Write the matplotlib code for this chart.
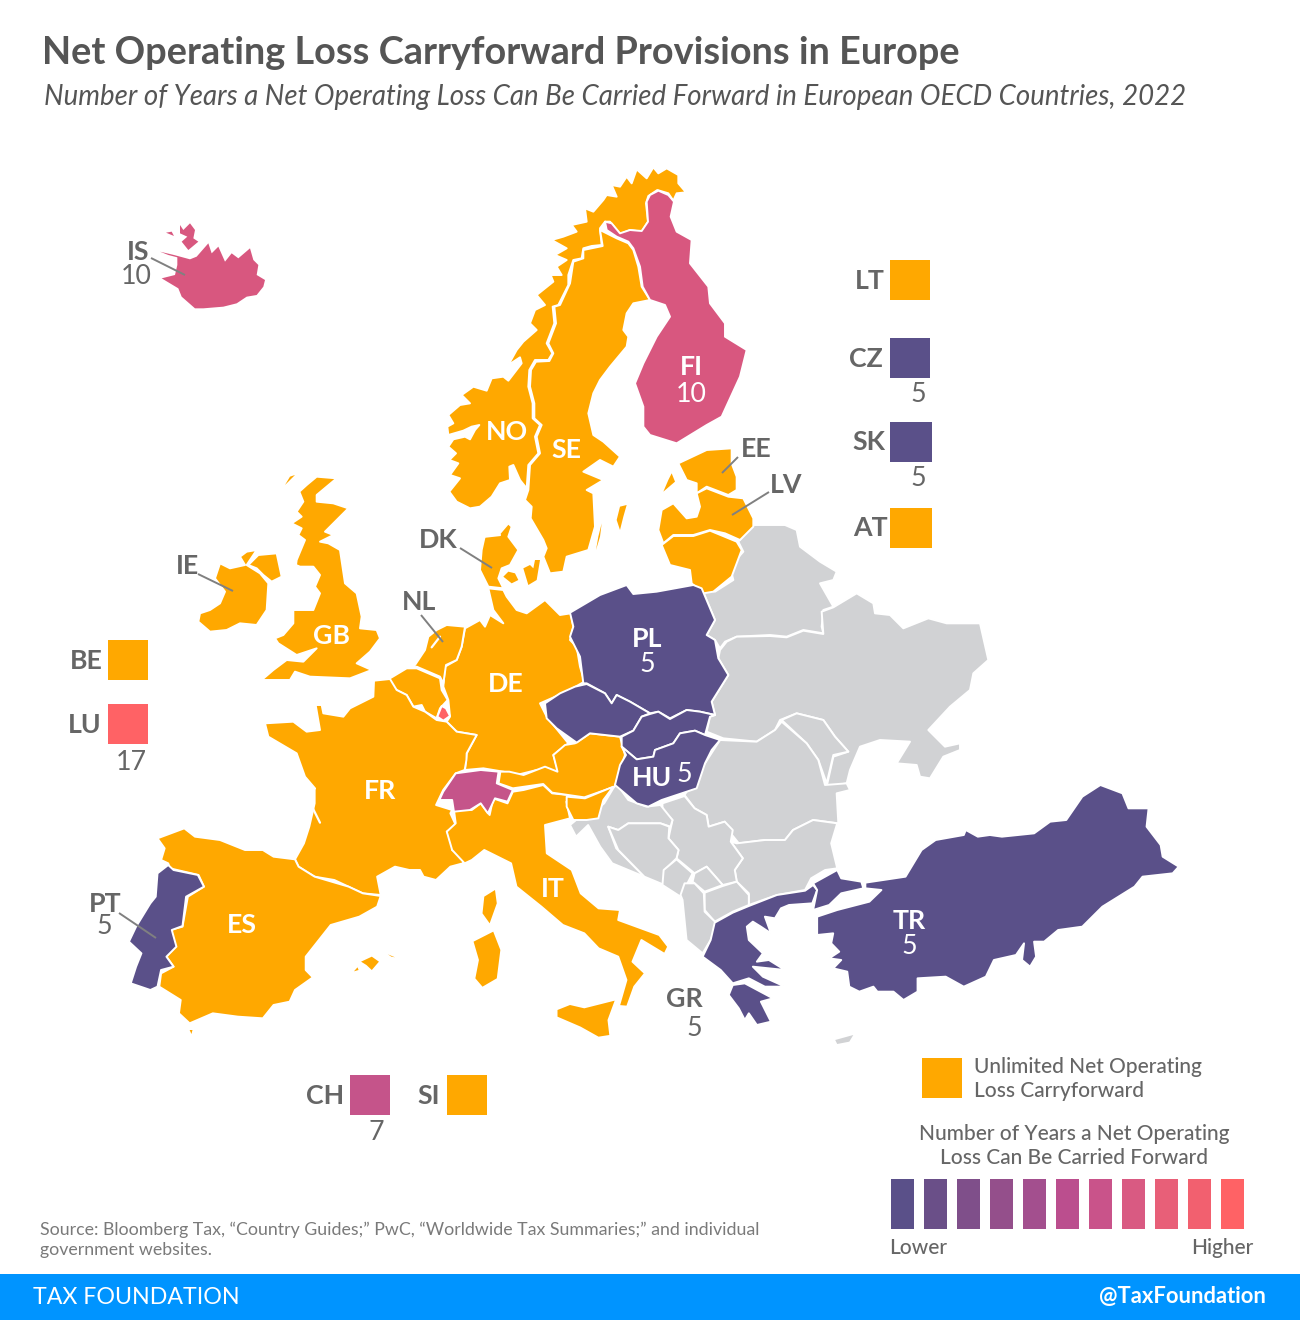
import matplotlib
matplotlib.use("Agg")
import matplotlib.pyplot as plt
from matplotlib.patches import Polygon, Rectangle

plt.rcParams['font.family'] = ['Lato', 'DejaVu Sans']

# ---- palette -------------------------------------------------------------
ORANGE = '#ffa800'; PURPLE = '#5a5089'; GREY = '#d1d2d4'
PINK10 = '#d8577f'; PINK7 = '#c5548a'; RED17 = '#ff6265'
TXT = '#666666'

# ---- outlines, in crop coordinates ----------------------------------------
def c1(p): return [(420 + x / 3, 160 + y / 3) for x, y in p]
def c2(p): return [(150 + x / 3, 460 + y / 3) for x, y in p]
def c3(p): return [(120 + x / 2.8, 760 + y / 3) for x, y in p]
def c4(p): return [(540 + x / 3, 520 + y / 3) for x, y in p]
def c5(p): return [(560 + x / 2.489, 770 + y / 3) for x, y in p]
def c7(p): return [(100 + x / 3, 200 + y / 3) for x, y in p]

NO = c1([(798,97),(770,100),(760,122),(745,100),(712,90),(685,108),(678,130),(684,185),(665,215),(630,210),(600,222),(570,185),(555,185),(540,205),(545,255),(515,258),(490,265),(485,295),(460,300),(445,345),(445,375),(415,435),(398,440),(403,490),(380,550),(397,580),(385,600),(345,600),(328,630),(325,680),(338,730),(338,775),(360,795),(345,830),(355,880),(325,915),(320,985),(300,960),(280,915),(268,920),(270,960),(240,970),(215,1010),(180,1040),(150,1045),(110,1025),(88,995),(120,955),(90,945),(115,910),(88,900),(108,880),(85,860),(100,838),(135,830),(150,838),(165,810),(178,795),(155,800),(130,812),(85,825),(82,800),(100,790),(85,765),(120,735),(150,730),(125,705),(160,680),(200,692),(215,655),(250,650),(265,662),(305,610),(300,592),(265,615),(290,570),(310,545),(350,510),(330,490),(345,450),(375,435),(350,405),(400,365),(392,345),(425,345),(410,320),(440,300),(405,285),(440,265),(395,240),(430,230),(470,215),(455,195),(500,185),(495,145),(520,155),(550,120),(560,105),(590,110),(575,75),(600,80),(620,50),(635,70),(650,28),(680,55),(700,22),(715,40),(740,25),(775,45),(775,70)])
SE = c1([(540,210),(548,258),(490,270),(490,295),(460,305),(450,370),(420,435),(403,440),(408,490),(385,550),(400,580),(388,603),(348,605),(333,630),(330,680),(343,730),(343,775),(365,795),(350,830),(360,880),(330,915),(325,990),(315,1020),(335,1040),(332,1075),(370,1140),(380,1165),(370,1190),(390,1240),(430,1235),(440,1190),(505,1170),(525,1100),(520,1000),(500,990),(550,960),(490,935),(540,900),(580,920),(600,890),(550,845),(520,825),(505,760),(520,700),(540,660),(570,620),(620,560),(625,530),(610,510),(620,460),(640,430),(690,420),(665,380),(655,320),(640,270),(625,250),(590,235),(560,220)])
FI = c1([(555,185),(575,190),(600,220),(630,210),(665,213),(684,185),(680,125),(690,105),(715,92),(745,105),(762,125),(752,170),(770,215),(815,240),(810,310),(865,380),(870,430),(915,490),(915,530),(980,570),(960,650),(905,770),(860,795),(770,850),(690,825),(670,800),(670,740),(645,670),(670,610),(710,530),(750,470),(735,435),(690,420),(668,380),(660,320),(640,265),(625,245),(590,230),(560,210)])
EE = c1([(935,865),(860,870),(775,910),(800,960),(830,970),(830,1000),(860,980),(925,1005),(950,990),(950,950),(935,910)])
EE_ISL = c1([(755,940),(765,965),(730,995),(745,960)])
LV = c1([(830,1000),(860,985),(925,1010),(970,1015),(1000,1075),(1000,1100),(960,1140),(915,1120),(870,1110),(820,1125),(760,1125),(730,1150),(715,1110),(725,1050),(760,1030),(800,1075),(830,1070),(840,1040)])
LT = c1([(725,1155),(760,1128),(820,1128),(870,1112),(950,1145),(965,1170),(935,1250),(880,1295),(850,1300),(815,1270),(810,1230),(750,1215)])
GOTLAND = c1([(620,1035),(600,1040),(590,1080),(600,1110),(610,1070)])
OLAND = c1([(545,1090),(535,1130),(528,1170),(540,1130)])
DK = c2([(1075,190),(1045,225),(1005,225),(995,270),(990,330),(1015,380),(1060,385),(1045,355),(1055,325),(1080,315),(1105,270),(1075,230),(1085,200)])
DK_FYN = c2([(1075,335),(1060,350),(1085,370),(1105,360),(1095,340)])
DK_SJ = c2([(1140,315),(1120,325),(1135,375),(1160,360),(1170,300),(1155,300),(1150,325)])
DE = c2([(1015,385),(1060,390),(1070,410),(1100,450),(1130,460),(1185,420),(1230,465),(1262,460),(1270,500),(1260,540),(1280,560),(1290,620),(1303,665),(1250,695),(1170,730),(1190,770),(1255,850),(1210,885),(1225,935),(1160,930),(1100,945),(1060,935),(1000,925),(945,930),(950,880),(980,825),(920,815),(890,785),(900,770),(895,720),(880,680),(885,620),(920,600),(935,560),(945,505),(990,480),(1005,500),(1020,465),(1060,490),(1030,450)])
NL = c2([(945,500),(890,495),(860,510),(835,530),(825,570),(795,615),(770,630),(800,620),(835,635),(870,650),(880,670),(888,615),(920,600),(935,560)])
BE = c2([(720,655),(770,625),(800,625),(870,655),(875,690),(893,720),(870,745),(860,775),(825,755),(815,735),(790,740),(770,705),(740,690),(720,680)])
LU = c2([(875,738),(862,770),(880,782),(900,768),(888,745)])
FR = c2([(720,657),(672,662),(670,710),(600,745),(580,770),(520,760),(515,735),(497,735),(510,810),(470,815),(430,785),(345,790),(355,830),(440,880),(465,950),(495,985)]) + \
     c3([(545,85),(545,130),(530,200),(515,250),(490,298),(500,320),(545,350),(600,360),(640,380),(680,400),(730,405),(720,350),(770,320),(810,330),(840,330),(850,350),(885,360),(925,320),(960,310),(965,290),(930,270),(930,240),(915,215),(940,195),(925,160),(930,150),(885,135),(905,90),(940,40),(965,30),(970,0)]) + \
     c2([(950,880),(980,825),(920,815),(890,785),(860,780),(825,755),(790,740),(770,705),(740,690)])
CORSICA = c3([(1050,390),(1020,410),(1015,460),(1035,490),(1055,430)])
ES = c3([(105,235),(180,205),(210,230),(280,240),(350,270),(400,270),(430,290),(490,298),(500,320),(545,350),(640,380),(680,400),(730,408),(720,440),(670,470),(590,495),(520,590),(520,630),(540,652),(490,690),(475,725),(430,735),(400,775),(330,770),(260,760),(195,790),(165,760),(170,720),(110,680),(115,640),(150,620),(130,590),(155,560),(140,510),(175,500),(190,410),(235,380),(220,345),(140,325),(135,310),(115,300),(125,265)])
PT = c3([(135,315),(105,340),(100,410),(85,430),(45,500),(25,545),(60,580),(45,620),(30,670),(85,690),(105,680),(115,630),(150,620),(130,590),(158,560),(145,510),(175,498),(185,410),(235,380),(218,345),(150,330)])
BALEARIC = c3([(675,605),(705,590),(725,605),(705,630),(690,615)])
BALEARIC2 = c3([(750,583),(770,592),(760,590)])
BALEARIC3 = c3([(655,634),(665,622),(668,630)])
CEUTA = c3([(195,810),(203,810),(200,822)])
IT = c3([(935,150),(985,150),(1010,130),(1035,165),(1045,115),(1085,130),(1100,95),(1130,90),(1185,75),(1210,100),(1300,110),(1250,125),(1260,175),(1190,195),(1195,280),(1265,330),(1290,400),(1340,445),(1400,450),(1395,480),(1510,525),(1535,560),(1525,582),(1460,540),(1435,605),(1470,640),(1440,680),(1420,740),(1397,738),(1418,660),(1395,590),(1340,565),(1300,520),(1240,495),(1180,440),(1110,380),(1095,310),(1020,270),(985,300),(965,310),(930,270),(915,215),(940,190)])
SICILY = c3([(1385,722),(1300,745),(1260,735),(1225,750),(1225,770),(1290,800),(1340,830),(1370,825),(1365,780)])
SARDINIA = c3([(1045,515),(990,545),(1005,600),(995,655),(1015,680),(1055,655),(1065,570)])
CH = c3([(890,130),(905,95),(940,40),(1010,30),(1060,35),(1055,70),(1100,90),(1085,125),(1050,115),(1030,160),(1010,130),(980,150),(935,155),(930,120),(900,120)])
AT = c3([(1065,35),(1060,70),(1100,85),(1185,72),(1210,98),(1300,112),(1385,80)]) + \
     c4([(255,705),(240,650),(150,640),(105,670),(75,675),(40,705),(50,745)]) + \
     c3([(1225,35),(1190,20),(1130,45),(1090,35)])
SI = c4([(80,830),(135,835),(220,800),(190,840),(175,895),(140,900),(100,900),(80,860)])
PL = c4([(90,278),(180,225),(260,195),(280,222),(350,215),(460,195),(485,205),(525,300),(500,345),(525,360),(535,415),(565,465),(515,545),(525,585),(480,575),(440,570),(390,595),(355,575),(330,580),(270,545),(230,525),(215,550),(195,520),(140,490),(130,490),(120,410),(90,350),(100,320)])
CZ = c4([(140,492),(105,500),(60,520),(15,550),(20,595),(50,625),(110,668),(150,640),(240,650),(280,632),(305,590),(330,580),(270,545),(230,525),(215,550),(195,520)])
SK = c4([(330,582),(305,590),(280,632),(245,650),(245,680),(290,718),(340,710),(345,690),(400,670),(420,640),(465,632),(495,645),(510,590),(525,585),(480,575),(440,570),(390,597),(355,575)])
HU = c4([(245,680),(258,705),(240,735),(225,795),(290,850),(325,860),(365,840),(470,805),(495,730),(515,690),(540,660),(495,645),(465,632),(420,640),(400,670),(345,690),(340,710),(290,718)])
BY = c4([(485,205),(525,215),(580,180),(570,140),(610,95),(595,65),(640,15),(735,15),(770,30),(780,80),(840,125),(890,155),(880,180),(840,190),(880,260),(850,270),(845,320),(850,340),(790,330),(740,350),(690,345),(590,350),(555,365),(540,385),(525,360),(500,345),(525,300)])
UA = c4([(540,390),(560,365),(590,350),(690,348),(740,352),(790,332),(850,342),(845,275),(880,262),(950,220),(1000,250),(1005,280),(1050,285),(1090,325),(1165,295),(1220,310),(1320,310),(1345,420),(1300,460),(1290,510),(1230,560),(1165,630),(1215,680),(1260,670),(1260,690),(1210,710),(1170,775),(1140,770),(1130,735),(1070,730),(1110,665),(1020,660),(960,680),(930,750),(920,790),(860,800),(880,710),(925,695),(885,650),(850,600),(770,580),(720,600),(705,630),(650,665),(550,655),(500,635),(510,590),(525,585),(515,545),(565,465),(535,415)])
MD = c4([(725,600),(770,580),(850,600),(885,650),(925,695),(880,705),(860,790),(835,720),(800,670)])
RO = c4([(540,660),(650,665),(705,630),(725,605),(800,670),(835,720),(855,795),(920,790),(930,810),(890,820),(895,910)]) + \
     c5([(630,150),(580,180),(560,210),(510,210),(445,220),(425,190),(410,155),(370,170),(365,135),(335,115),(310,75)])
BG = c5([(440,220),(510,210),(560,210),(580,180),(630,150),(690,160),(675,220),(690,295),(660,300),(625,325),(610,360),(540,375),(470,405),(470,370),(440,335),(435,300),(455,265),(425,215)])
RS = c5([(255,100),(310,78),(335,115),(365,135),(370,170),(410,155),(430,180),(425,215),(455,265),(435,300),(440,335),(405,345),(365,290),(335,310),(290,265),(295,240),(270,205),(280,150),(255,120)])
HR = c5([(140,40),(110,100),(90,120),(40,150),(25,165),(40,200),(70,165),(100,230),(130,280),(210,320),(140,235),(120,170),(145,180),(170,160),(250,160),(275,170),(280,150),(250,105),(215,110),(170,90)])
BA = c5([(120,170),(145,180),(170,160),(250,160),(272,170),(270,205),(295,240),(290,265),(260,300),(260,345),(210,320),(145,240)])
ME = c5([(290,268),(330,310),(300,380),(255,345),(258,300)])
XK = c5([(365,290),(405,345),(360,365),(330,335),(335,310)])
MK = c5([(360,368),(405,348),(440,335),(470,375),(470,405),(430,425),(385,455),(360,420)])
AL = c5([(310,340),(335,340),(358,370),(360,425),(390,460),(375,510),(355,550),(315,510),(305,390),(300,375)])
CY = c5([(685,810),(730,795),(720,815),(690,822)])
GR = c5([(385,458),(430,428),(470,408),(540,375),(610,362),(630,345),(640,360),(628,400),(570,405),(550,415),(535,445),(510,440),(525,490),(500,470),(480,455),(465,470),(470,510),(505,550),(490,575),(520,570),(560,600),(480,590),(505,620),(560,650),(510,650),(470,625),(430,640),(400,600),(355,560),(375,510)])
GR_PEL = c5([(430,645),(460,640),(530,685),(500,695),(525,755),(490,765),(470,730),(460,750),(445,715),(420,675)])
TR_EU = c5([(630,340),(690,300),(700,325),(750,335),(755,355),(700,370),(670,405),(630,420),(640,360)])
TR = c5([(760,338),(860,320),(900,240),(935,210),(1005,195),(1010,180),(1040,200),(1070,195),(1100,200),(1180,190),(1220,155),(1260,150),(1300,80),(1345,45),(1400,70),(1415,115),(1465,115),(1460,170),(1495,225),(1500,260),(1540,290),(1525,310),(1450,320),(1430,350),(1350,410),(1300,470),(1240,480),(1205,515),(1180,515),(1185,560),(1170,590),(1150,570),(1155,520),(1135,555),(1080,570),(1060,620),(1005,650),(960,620),(890,625),(890,665),(855,690),(830,665),(790,665),(780,650),(745,665),(720,650),(715,605),(680,595),(700,570),(670,565),(695,545),(675,520),(680,490),(640,495),(640,440),(690,420),(770,395),(800,360),(760,355)])
IS_MAIN = c7([(185,235),(225,225),(232,195),(232,172),(205,165),(180,155),(222,165),(270,178),(290,170),(325,130),(335,160),(355,140),(375,185),(395,160),(415,175),(450,145),(460,180),(475,195),(470,225),(495,240),(490,260),(470,285),(440,290),(410,310),(370,320),(310,325),(285,325),(245,290),(235,265)])
IS_NW = c7([(240,75),(250,90),(270,70),(285,90),(280,115),(295,125),(265,150),(245,125),(262,110),(240,100)])
IS_DOT = c7([(198,98),(222,108),(215,95)])
GB = c2([(560,55),(500,50),(470,75),(448,95),(460,125),(440,155),(455,170),(425,190),(455,205),(445,225),(465,240),(440,300),(438,315),(450,320),(490,320),(510,345),(495,380),(510,400),(490,450),(430,450),(430,490),(400,525),(375,535),(385,550),(440,585),(500,565),(460,605),(410,600),(370,630),(335,660),(420,660),(435,635),(480,650),(600,655),(665,630),(620,610),(660,575),(690,535),(680,510),(630,505),(635,470),(620,400),(585,370),(570,270),(535,250),(510,245),(550,225),(525,215),(595,145),(550,130),(500,125),(500,105)])
GB_HEB = c2([(435,45),(405,75),(420,50)])
IE = c2([(320,270),(290,275),(270,290),(285,315),(240,325),(210,310),(195,355),(225,395),(210,430),(180,450),(150,460),(145,485),(180,515),(230,510),(270,490),(320,495),(350,450),(355,370),(330,340),(290,315)])
NIR = c2([(325,285),(380,280),(395,350),(365,365),(340,345),(320,325),(295,315)])

# white inlets cut across the land
INLETS = [c2([(870,530),(845,562)]), c2([(1005,230),(1050,225)]), c3([(540,145),(560,188)])]

SHAPES_GREY = [BY, UA, MD, RO, BG, RS, HR, BA, ME, XK, MK, AL]
SHAPES_ORANGE = [NO, SE, EE, LV, LT, DK, DE, NL, BE, FR, ES, IT, AT, SI, GB, IE, NIR]
SHAPES_PURPLE = [PT, PL, CZ, SK, HU, GR, GR_PEL, TR_EU, TR]
SHAPES_PINK10 = [FI]
SHAPES_PINK7 = [CH]
SHAPES_RED = [LU]
# small islands carry no white outline, so they keep their visible size
ISLES = [(EE_ISL, ORANGE), (GOTLAND, ORANGE), (OLAND, ORANGE), (DK_FYN, ORANGE), (DK_SJ, ORANGE),
         (CORSICA, ORANGE), (SARDINIA, ORANGE), (SICILY, ORANGE), (BALEARIC, ORANGE),
         (BALEARIC2, ORANGE), (BALEARIC3, ORANGE), (CEUTA, ORANGE), (GB_HEB, ORANGE),
         (IS_MAIN, PINK10), (IS_NW, PINK10), (IS_DOT, PINK10), (CY, GREY)]

# ---- labels ---------------------------------------------------------------
MAP_CODES = ['FI', 'NO', 'SE', 'GB', 'DE', 'PL', 'FR', 'ES', 'IT', 'TR', 'HU']
MAP_CODE_XY = [(691, 366), (507, 431), (566, 449), (331, 635), (506, 683), (647, 638), (380, 790), (242, 924), (553, 888), (909, 920), (652, 777)]
MAP_YEARS = ['10', '5', '5', '5']
MAP_YEAR_XY = [(691, 392), (647, 663), (909, 945), (684, 773)]

OUT_CODES = ['IS', 'IE', 'DK', 'NL', 'EE', 'LV', 'PT', 'GR']
OUT_CODE_XY = [(138, 251), (188, 565), (438, 539), (419, 601), (756, 448), (786, 484), (105, 903), (684, 998)]
OUT_YEARS = ['10', '5', '5']
OUT_YEAR_XY = [(136, 275), (104, 925), (694, 1027)]
LEADERS = [((151, 258), (185, 275)), ((198, 574), (233, 591)), ((460, 548), (492, 568)),
           ((421, 615), (443, 642)), ((738, 457), (722, 473)), ((769, 492), (732, 515)), ((119, 913), (156, 938))]

BOX_CODES = ['LT', 'CZ', 'SK', 'AT', 'BE', 'LU', 'CH', 'SI']
BOX_COLORS = [ORANGE, PURPLE, PURPLE, ORANGE, ORANGE, RED17, PINK7, ORANGE]
BOX_XY = [(890, 260), (890, 338), (890, 422), (890, 508), (108, 640), (108, 704), (350, 1075), (447, 1075)]
BOX_W = [40, 40, 42, 42, 40, 40, 40, 40]
BOX_LABEL_X = [885, 883, 885, 888, 103, 102, 344, 440]
BOX_LABEL_Y = [280, 358, 441, 527, 660, 724, 1095, 1095]
BOX_YEARS = ['5', '5', '17', '7']
BOX_YEAR_XY = [(918, 392), (918, 476), (131, 760), (376, 1130)]

RAMP_COLORS = ['#5a5089', '#6a4f88', '#7f4f8a', '#944f8b', '#a34f8e', '#bb4e8e', '#c9538a',
               '#d95a82', '#e85f78', '#f2606f', '#ff6265']

TITLE = 'Net Operating Loss Carryforward Provisions in Europe'
SUBTITLE = 'Number of Years a Net Operating Loss Can Be Carried Forward in European OECD Countries, 2022'
SOURCE = ['Source: Bloomberg Tax, \u201cCountry Guides;\u201d PwC, \u201cWorldwide Tax Summaries;\u201d and individual',
          'government websites.']

# ---- figure ---------------------------------------------------------------
fig = plt.figure(figsize=(13, 13.2), dpi=100, facecolor='white')
ax = fig.add_axes([0, 0, 1, 1])
ax.set_xlim(0, 1300); ax.set_ylim(1320, 0); ax.axis('off')

for group, col in [(SHAPES_GREY, GREY), (SHAPES_ORANGE, ORANGE), (SHAPES_PURPLE, PURPLE),
                   (SHAPES_PINK10, PINK10), (SHAPES_PINK7, PINK7), (SHAPES_RED, RED17)]:
    for pts in group:
        ax.add_patch(Polygon(pts, closed=True, facecolor=col, edgecolor='white', linewidth=1.4, joinstyle='round'))
for pts, col in ISLES:
    ax.add_patch(Polygon(pts, closed=True, facecolor=col, edgecolor='none'))
for pts in INLETS:
    ax.plot([p[0] for p in pts], [p[1] for p in pts], color='white', lw=1.6, solid_capstyle='round')

ax.text(42.5, 53, TITLE, fontsize=27.3, fontweight='bold', color='#555555', va='center', ha='left')
ax.text(44, 97, SUBTITLE, fontsize=19.9, style='italic', color='#555555', va='center', ha='left')

DY = 1
DY_YEAR = 2
for s, (x, y) in zip(MAP_CODES, MAP_CODE_XY):
    ax.text(x, y + DY, s, fontsize=19.3, fontweight='bold', color='white', ha='center', va='center')
for s, (x, y) in zip(MAP_YEARS, MAP_YEAR_XY):
    ax.text(x, y + DY_YEAR, s, fontsize=19.3, color='white', ha='center', va='center')
for s, (x, y) in zip(OUT_CODES, OUT_CODE_XY):
    ax.text(x, y + DY, s, fontsize=19.3, fontweight='bold', color=TXT, ha='center', va='center')
for s, (x, y) in zip(OUT_YEARS, OUT_YEAR_XY):
    ax.text(x, y + DY_YEAR, s, fontsize=19.3, color=TXT, ha='center', va='center')
for a, b in LEADERS:
    ax.plot([a[0], b[0]], [a[1], b[1]], color='#808080', lw=1.4, solid_capstyle='butt')

for s, col, (x, y), w, lx, ly in zip(BOX_CODES, BOX_COLORS, BOX_XY, BOX_W, BOX_LABEL_X, BOX_LABEL_Y):
    ax.add_patch(Rectangle((x, y), w, 40, facecolor=col, edgecolor='none'))
    ax.text(lx, ly + DY, s, fontsize=19.3, fontweight='bold', color=TXT, ha='right', va='center')
for s, (x, y) in zip(BOX_YEARS, BOX_YEAR_XY):
    ax.text(x, y + DY_YEAR, s, fontsize=19.3, color=TXT, ha='center', va='center')

# legend
ax.add_patch(Rectangle((922, 1058), 40, 40, facecolor=ORANGE, edgecolor='none'))
ax.text(974, 1067, 'Unlimited Net Operating', fontsize=15, fontweight='medium', color=TXT, va='center')
ax.text(974, 1091, 'Loss Carryforward', fontsize=15, fontweight='medium', color=TXT, va='center')
ax.text(1074, 1134, 'Number of Years a Net Operating', fontsize=15, fontweight='medium', color=TXT, va='center', ha='center')
ax.text(1074, 1158, 'Loss Can Be Carried Forward', fontsize=15, fontweight='medium', color=TXT, va='center', ha='center')
for i, col in enumerate(RAMP_COLORS):
    ax.add_patch(Rectangle((891 + 33 * i, 1179), 23, 50, facecolor=col, edgecolor='none'))
ax.text(889, 1248, 'Lower', fontsize=15, fontweight='medium', color=TXT, va='center')
ax.text(1253, 1248, 'Higher', fontsize=15, fontweight='medium', color=TXT, va='center', ha='right')

# source + footer
ax.text(40, 1230, SOURCE[0], fontsize=12.75, color='#7a7a7a', va='center')
ax.text(40, 1250, SOURCE[1], fontsize=12.75, color='#7a7a7a', va='center')
ax.add_patch(Rectangle((0, 1274), 1300, 46, facecolor='#0094ff', edgecolor='none'))
ax.text(33, 1298, 'TAX FOUNDATION', fontsize=16.7, color='white', va='center')
ax.text(1266, 1297, '@TaxFoundation', fontsize=15.8, fontweight='bold', color='white', va='center', ha='right')

fig.savefig('out.png', dpi=100)
